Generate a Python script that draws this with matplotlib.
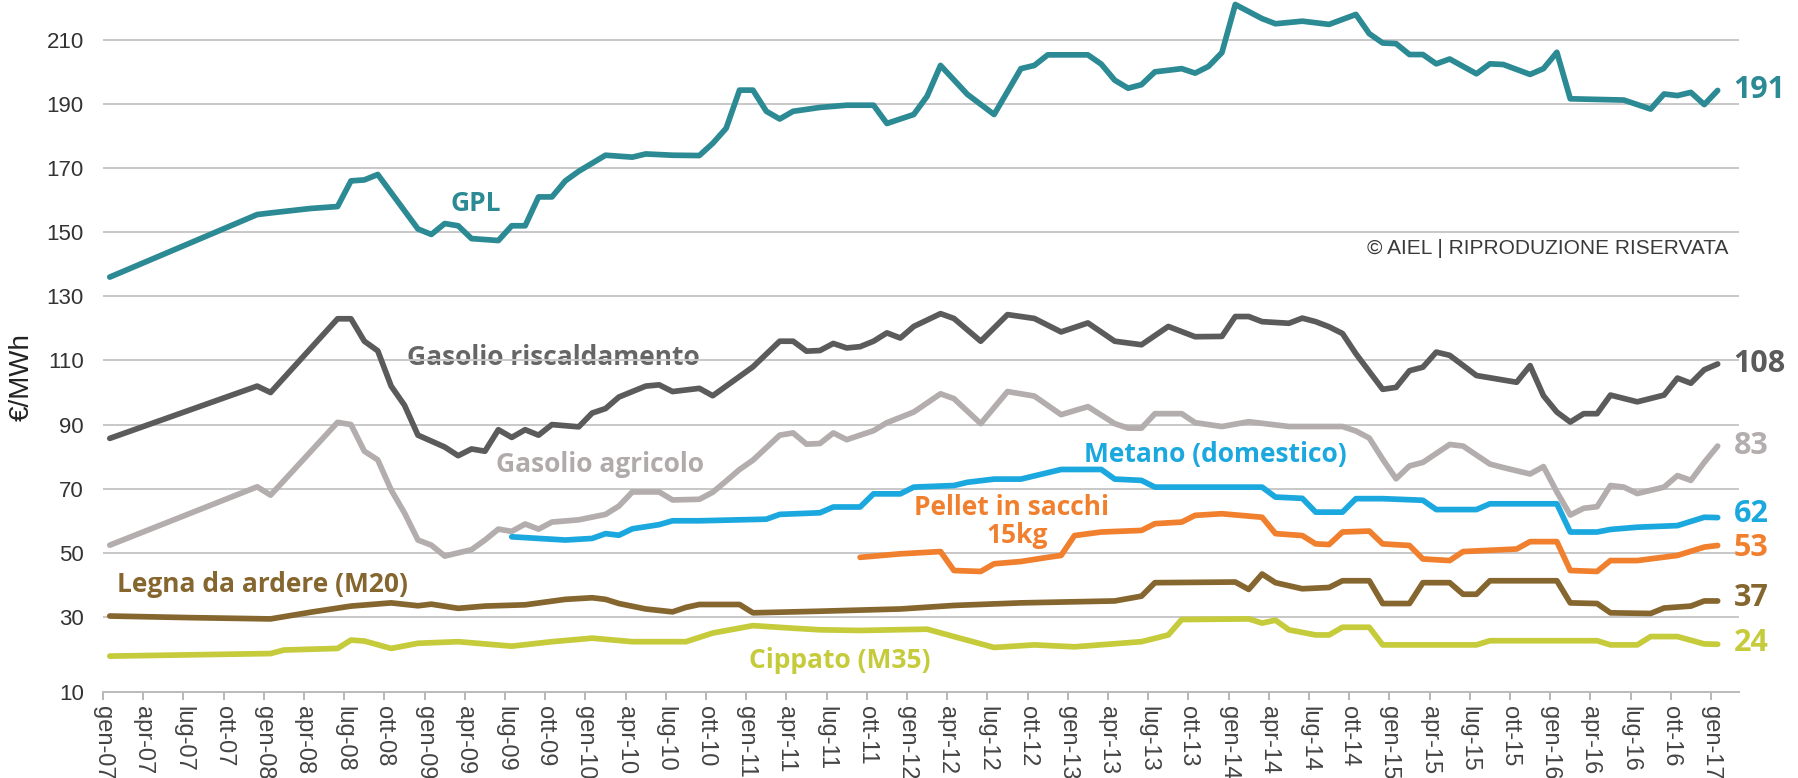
import matplotlib.pyplot as plt

# €/MWh, vertices; month index 0 = gen-07, 120 = gen-17
gpl_m = [0, 11, 12, 15, 17, 18, 19, 20, 23, 24, 25, 26, 27, 29, 30, 31, 32, 33, 34, 35, 37, 39, 40, 42,
         44, 45, 46, 47, 48, 49, 50, 51, 53, 55, 57, 58, 60, 61, 62, 64, 66, 68, 69, 70, 73, 74, 75, 76,
         77, 78, 80, 81, 82, 83, 84, 86, 87, 89, 91, 93, 94, 95, 96, 97, 98, 99, 100, 102, 103, 104, 106,
         107, 108, 109, 113, 115, 116, 117, 118, 119, 120]
gpl_v = [136, 155.5, 156, 157.4, 158, 166, 166.3, 168, 151, 149.3, 152.7, 152, 148, 147.4, 152, 152, 161, 161,
         166, 169, 174, 173.4, 174.4, 174, 173.9, 177.7, 182.4, 194.3, 194.3, 187.7, 185.3, 187.7, 188.9,
         189.6, 189.6, 183.9, 186.7, 192.4, 202, 193, 186.7, 201, 202, 205.3, 205.3, 202.4, 197.4, 194.9,
         196, 200, 201, 199.6, 201.7, 206, 221, 216.6, 215, 215.8, 214.8, 217.9, 211.9, 209, 208.8, 205.4,
         205.4, 202.5, 204, 199.4, 202.5, 202.3, 199.2, 201, 206.1, 191.6, 191.2, 188.4, 193.1, 192.6,
         193.6, 189.8, 194.2]

risc_m = [0, 11, 12, 17, 18, 19, 20, 21, 22, 23, 25, 26, 27, 28, 29, 30, 31, 32, 33, 35, 36, 37, 38, 40,
          41, 42, 44, 45, 48, 50, 51, 52, 53, 54, 55, 56, 57, 58, 59, 60, 62, 63, 65, 67, 69, 71, 73, 75,
          77, 79, 81, 83, 84, 85, 86, 88, 89, 90, 91, 92, 93, 95, 96, 97, 98, 99, 100, 102, 105, 106, 107,
          108, 109, 110, 111, 112, 114, 116, 117, 118, 119, 120]
risc_v = [85.7, 102, 100, 123, 123, 116, 113, 102, 96, 86.7, 83, 80.3, 82.4, 81.7, 88.4, 86, 88.4, 86.7, 90,
          89.3, 93.6, 95, 98.6, 102, 102.4, 100.3, 101.3, 99, 108, 116, 116, 112.9, 113.1, 115.3, 113.9,
          114.3, 116, 118.6, 117, 120.6, 124.6, 123.1, 116, 124.3, 123.1, 118.9, 121.7, 116, 114.9, 120.6,
          117.4, 117.5, 123.7, 123.7, 122.1, 121.6, 123.2, 122.1, 120.5, 118.4, 112.1, 101, 101.6, 106.8,
          107.9, 112.6, 111.6, 105.3, 103.2, 108.4, 99, 93.9, 90.8, 93.4, 93.4, 99.2, 97.1, 99.2, 104.5,
          102.9, 107.1, 108.9]

agri_m = [0, 11, 12, 17, 18, 19, 20, 21, 22, 23, 24, 25, 27, 28, 29, 30, 31, 32, 33, 35, 37, 38, 39, 41,
          42, 44, 45, 46, 47, 48, 50, 51, 52, 53, 54, 55, 57, 58, 60, 62, 63, 65, 67, 69, 71, 73, 75, 76,
          77, 78, 80, 81, 83, 85, 88, 92, 93, 94, 95, 96, 97, 98, 100, 101, 103, 104, 106, 107, 108, 109,
          110, 111, 112, 113, 114, 116, 117, 118, 119, 120]
agri_v = [52.4, 70.6, 68, 90.7, 90, 81.7, 79, 69.6, 62.4, 54, 52.4, 49, 51, 54, 57.4, 56.7, 59, 57.4, 59.6,
          60.3, 62, 64.6, 69, 69, 66.5, 66.7, 68.9, 72.4, 76, 78.9, 86.7, 87.4, 83.9, 84.1, 87.4, 85.3, 88.1,
          90.6, 93.9, 99.6, 98.1, 90.3, 100.3, 98.9, 93.1, 95.6, 90.3, 88.9, 88.9, 93.4, 93.4, 90.6, 89.4,
          90.9, 89.4, 89.4, 88, 85.8, 79.2, 73.1, 77.1, 78.2, 83.8, 83.3, 77.7, 76.6, 74.6, 76.9, 69, 61.8,
          63.9, 64.4, 71, 70.5, 68.5, 70.5, 74.1, 72.6, 78.2, 83.3]

metano_m = [30, 32, 34, 36, 37, 38, 39, 41, 42, 44, 49, 50, 53, 54, 56, 57, 59, 60, 63, 64, 66, 68, 69, 71,
            74, 75, 77, 78, 86, 87, 89, 90, 92, 93, 95, 98, 99, 102, 103, 108, 109, 111, 112, 114, 117, 119,
            120]
metano_v = [55, 54.5, 54, 54.5, 56, 55.5, 57.5, 58.8, 60, 60, 60.5, 62, 62.5, 64.3, 64.3, 68.4, 68.4, 70.5,
            71, 72, 73, 73, 74, 76, 76, 73, 72.6, 70.5, 70.5, 67.4, 67, 62.7, 62.7, 66.9, 66.9, 66.4, 63.5,
            63.5, 65.3, 65.3, 56.5, 56.5, 57.3, 58, 58.5, 61.1, 61]

pellet_m = [56, 59, 62, 63, 65, 66, 68, 70, 71, 72, 74, 77, 78, 80, 81, 83, 86, 87, 89, 90, 91, 92, 94, 95,
            97, 98, 100, 101, 104, 105, 106, 108, 109, 111, 112, 114, 117, 119, 120]
pellet_v = [48.6, 49.7, 50.4, 44.5, 44.2, 46.6, 47.3, 48.6, 49.2, 55.4, 56.5, 57, 59.1, 59.6, 61.7, 62.2,
            61.1, 56, 55.4, 52.8, 52.6, 56.5, 56.8, 52.8, 52.3, 48.1, 47.6, 50.4, 51, 51.2, 53.5, 53.5, 44.5,
            44.2, 47.6, 47.6, 49.2, 51.8, 52.3]

legna_m = [0, 6, 12, 15, 18, 21, 23, 24, 26, 28, 31, 34, 36, 37, 38, 40, 42, 43, 44, 47, 48, 53, 59, 63,
           68, 75, 77, 78, 84, 85, 86, 87, 89, 91, 92, 94, 95, 97, 98, 100, 101, 102, 103, 108, 109, 111,
           112, 115, 116, 118, 119, 120]
legna_v = [30.3, 29.8, 29.4, 31.5, 33.4, 34.4, 33.5, 34, 32.7, 33.4, 33.8, 35.5, 36, 35.5, 34.2, 32.5,
           31.6, 33, 33.9, 33.9, 31.3, 31.8, 32.5, 33.6, 34.4, 35, 36.5, 40.7, 40.9, 38.6, 43.4, 40.7, 38.8,
           39.2, 41.3, 41.3, 34.2, 34.2, 40.7, 40.7, 37.1, 37.1, 41.3, 41.3, 34.4, 34.2, 31.3, 31.1, 32.8,
           33.4, 35, 35]

cipp_m = [0, 12, 13, 17, 18, 19, 21, 23, 26, 30, 33, 36, 39, 43, 45, 48, 51, 53, 56, 61, 63, 66, 69, 72,
          77, 79, 80, 85, 86, 87, 88, 90, 91, 92, 94, 95, 102, 103, 111, 112, 114, 115, 117, 119, 120]
cipp_v = [17.8, 18.6, 19.7, 20.2, 22.8, 22.5, 20.2, 21.8, 22.3, 20.9, 22.3, 23.4, 22.3, 22.3, 25, 27.3,
          26.5, 26, 25.8, 26.2, 23.9, 20.5, 21.3, 20.7, 22.3, 24.4, 29.2, 29.4, 28.1, 29, 26, 24.4, 24.4,
          26.8, 26.8, 21.3, 21.3, 22.6, 22.6, 21.3, 21.3, 23.9, 23.9, 21.6, 21.5]

end_labels = ['191', '108', '83', '62', '53', '37', '24']
y_labels = ['10', '30', '50', '70', '90', '110', '130', '150', '170', '190', '210']
quarters = ['gen', 'apr', 'lug', 'ott']
years = ['07', '08', '09', '10', '11', '12', '13', '14', '15', '16', '17']
tick_labels = [q + '-' + y for y in years for q in quarters][:41]

series = [
    (gpl_m, gpl_v, '#2b8a93'),
    (risc_m, risc_v, '#5b5b5b'),
    (agri_m, agri_v, '#b3adae'),
    (metano_m, metano_v, '#1aa8de'),
    (pellet_m, pellet_v, '#f07f2e'),
    (legna_m, legna_v, '#86662f'),
    (cipp_m, cipp_v, '#c5cb3a'),
]
# small vertical nudges so the 62 / 53 end labels don't collide
label_nudge = [0, 0, 0, 1.2, -0.8, 0.8, 0.5]

fig = plt.figure(figsize=(17.99, 7.78), dpi=100)
ax = fig.add_axes([0.0573, 0.1105, 0.9094, 0.887])

# the original's bottom axis sits a little below where "10" would fall on the grid
y_bottom = 6.6

for (mm, vv, col), lab, dy in zip(series, end_labels, label_nudge):
    xs = [m + 0.5 for m in mm]
    ax.plot(xs, vv, color=col, lw=4.1, solid_joinstyle='round', solid_capstyle='round', clip_on=False, zorder=3)
    ax.text(121.7, vv[-1] + dy, lab, color=col, fontsize=22, fontweight='bold', family='Open Sans',
            va='center', ha='left', linespacing=0.9)

lbl = dict(fontsize=19, fontweight='bold', family='Open Sans', ha='center', va='center', zorder=0.4)
ax.text(27.8, 159, 'GPL', color='#2b8a93', **lbl)
ax.text(33.6, 111, 'Gasolio riscaldamento', color='#666666', **lbl)
ax.text(37.1, 77.5, 'Gasolio agricolo', color='#b0aaab', **lbl)
ax.text(83, 80.6, 'Metano (domestico)', color='#1aa8de', **lbl)
ax.text(67.8, 64, 'Pellet in sacchi', color='#f07f2e', **lbl)
ax.text(68.2, 55.3, '15kg', color='#f07f2e', **lbl)
ax.text(11.9, 40, 'Legna da ardere (M20)', color='#86662f', **lbl)
ax.text(55, 16.3, 'Cippato (M35)', color='#c5cb3a', **lbl)
ax.text(121.3, 145, '© AIEL | RIPRODUZIONE RISERVATA', color='#3a3a3a', fontsize=15,
        family=['Liberation Sans Narrow', 'Liberation Sans'], ha='right', va='center')

ax.set_xlim(0, 122.1)
ax.set_ylim(y_bottom, 221.8)
ax.set_yticks([y_bottom] + list(range(30, 211, 20)))
ax.set_yticklabels(y_labels)
ax.set_xticks(range(0, 121, 3))
ax.set_xticklabels(tick_labels, rotation=-90, fontsize=17, family='Liberation Sans', color='#444444',
                   va='top', ha='center')
ax.tick_params(axis='y', length=0, pad=14, labelsize=16, labelcolor='#333333')
ax.tick_params(axis='x', length=6, width=1.2, color='#aaaaaa', pad=4, direction='out')
for t in ax.get_yticklabels():
    t.set_family('Liberation Sans')
ax.set_axisbelow(True)
ax.grid(axis='y', color='#c8c8c8', lw=1.4)
for s in ['top', 'right', 'left']:
    ax.spines[s].set_visible(False)
ax.spines['bottom'].set_color('#bbbbbb')
ax.spines['bottom'].set_linewidth(1.4)

fig.text(0.012, 0.515, '€/MWh', rotation=90, fontsize=20, family='Liberation Sans', color='#222222',
         ha='center', va='center')

fig.savefig('out.png', dpi=100)
